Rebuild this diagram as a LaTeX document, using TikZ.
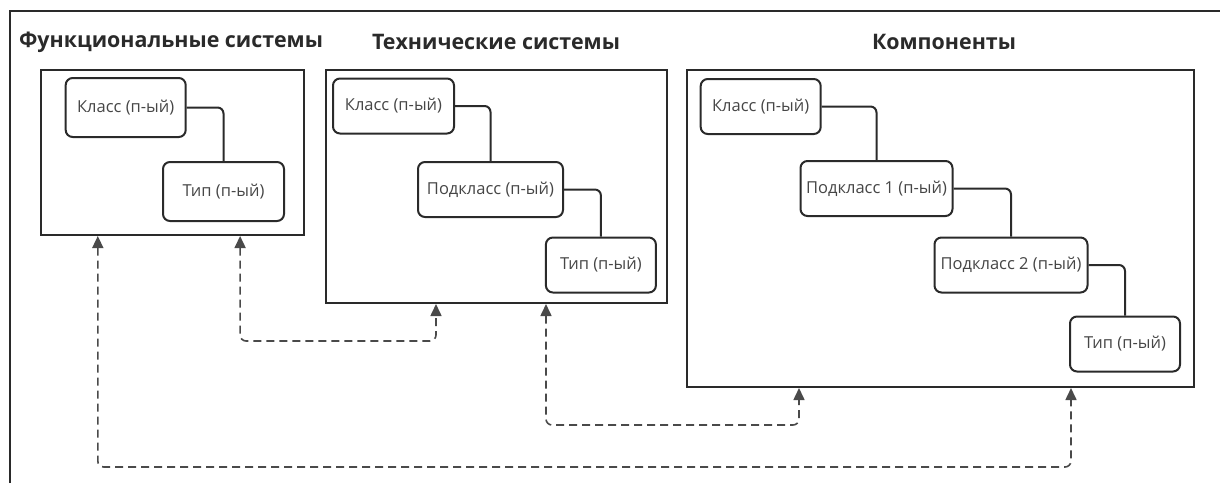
\documentclass[tikz,border=0pt]{standalone}
\usepackage{fontspec}
\setmainfont{Open Sans}
\usepackage{xcolor}
\usetikzlibrary{arrows.meta}

\definecolor{ink}{HTML}{2A2A2A}
\definecolor{label}{HTML}{464646}

\begin{document}
\begin{tikzpicture}[x=1pt, y=-1pt,
  frame/.style={draw=ink, line width=2pt},
  group/.style={draw=ink, line width=2pt, rectangle, inner sep=0pt},
  cell/.style={draw=ink, line width=2pt, rounded corners=7pt, minimum height=55pt, inner sep=2pt, text=label, font=\fontsize{16.5}{19}\selectfont},
  head/.style={font=\bfseries\fontsize{21.4}{26}\selectfont, text=ink},
  tie/.style={draw=ink, line width=2pt, rounded corners=6pt},
  link/.style={draw=ink!85, line width=1.6pt, dash pattern=on 8pt off 5pt, rounded corners=6pt,
    {Triangle[length=12pt,width=11pt]}-{Triangle[length=12pt,width=11pt]}}
]
  \useasboundingbox (0,0) rectangle (1220,483);

  % Draw the outer frame (only top and left edges show)
  \draw[frame] (9.5,483) -- (9.5,11) -- (1220,11);

  % Titles
  \node[head] (fsHead) at (171,42) {Функциональные системы};
  \node[head] (tsHead) at (496,42) {Технические системы};
  \node[head] (cmpHead) at (944,42) {Компоненты};

  % Group boxes
  \node[group, minimum width=263pt, minimum height=165pt] (fs) at (172.3,152.5) {};
  \node[group, minimum width=341pt, minimum height=233pt] (ts) at (496.2,186.5) {};
  \node[group, minimum width=507pt, minimum height=317pt] (cmp) at (940.5,228.5) {};

  % Functional systems
  \node[cell, minimum width=120pt, minimum height=59pt] (fsClass) at (125.7,107.5) {Класс (п-ый)};
  \node[cell, minimum width=121pt, minimum height=59pt] (fsType) at (223.5,191.5) {Тип (п-ый)};
  \draw[tie] (fsClass.east) -| (fsType.north);

  % Technical systems
  \node[cell, minimum width=121pt] (tsClass) at (393.5,106) {Класс (п-ый)};
  \node[cell, minimum width=145pt] (tsSub) at (490.5,189.5) {Подкласс (п-ый)};
  \node[cell, minimum width=110pt] (tsType) at (600.9,265) {Тип (п-ый)};
  \draw[tie] (tsClass.east) -| (tsSub.north);
  \draw[tie] (tsSub.east) -| (tsType.north);

  % Components
  \node[cell, minimum width=120pt] (cmpClass) at (760.7,106.5) {Класс (п-ый)};
  \node[cell, minimum width=152pt] (cmpSubA) at (876.5,188.5) {Подкласс 1 (п-ый)};
  \node[cell, minimum width=153pt] (cmpSubB) at (1011,265) {Подкласс 2 (п-ый)};
  \node[cell, minimum width=110pt] (cmpType) at (1125,344) {Тип (п-ый)};
  \draw[tie] (cmpClass.east) -| (cmpSubA.north);
  \draw[tie] (cmpSubA.east) -| (cmpSubB.north);
  \draw[tie] (cmpSubB.east) -| (cmpType.north);

  % Dashed links between the groups
  \draw[link] ([xshift=58]fs.south west) -- ++(0,231) -| ([xshift=385]cmp.south west);
  \draw[link] ([xshift=200.3]fs.south west) -- ++(0,105) -| ([xshift=111.3]ts.south west);
  \draw[link] ([xshift=221.3]ts.south west) -- ++(0,121) -| ([xshift=113]cmp.south west);
\end{tikzpicture}
\end{document}
